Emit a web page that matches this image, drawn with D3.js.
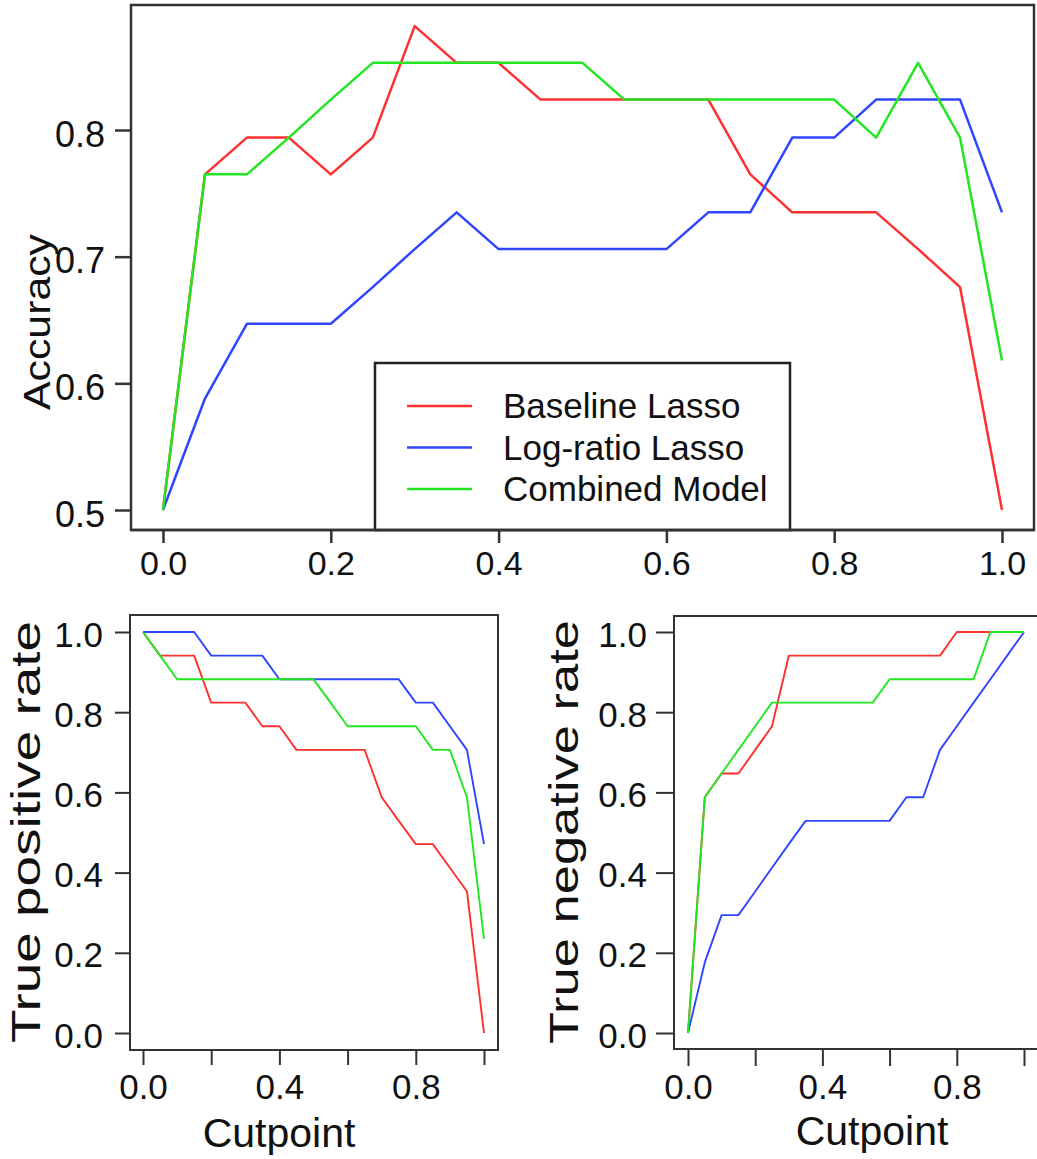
<!DOCTYPE html>
<html>
<head>
<meta charset="utf-8">
<script src="https://cdn.jsdelivr.net/npm/d3@7"></script>
<style>
  html, body { margin: 0; padding: 0; background: #fff; }
  svg { display: block; }
  text { font-family: "Liberation Sans", Arial, sans-serif; fill: #111; }
</style>
</head>
<body>
<svg id="chart" width="1037" height="1159"></svg>
<script>
// ---------- data ----------
const cutpoints = [0.00,0.05,0.10,0.15,0.20,0.25,0.30,0.35,0.40,0.45,0.50,0.55,0.60,0.65,0.70,0.75,0.80,0.85,0.90,0.95,1.00];

const seriesNames  = ["Baseline Lasso", "Log-ratio Lasso", "Combined Model"];
const seriesColors = ["#ff3030", "#2f45ff", "#22e622"];

const accBaseline = [0.500,0.765,0.794,0.794,0.765,0.794,0.882,0.853,0.853,0.824,0.824,0.824,0.824,0.824,0.765,0.735,0.735,0.735,0.706,0.676,0.500];
const accLogratio = [0.500,0.588,0.647,0.647,0.647,0.676,0.706,0.735,0.706,0.706,0.706,0.706,0.706,0.735,0.735,0.794,0.794,0.824,0.824,0.824,0.735];
const accCombined = [0.500,0.765,0.765,0.794,0.824,0.853,0.853,0.853,0.853,0.853,0.853,0.824,0.824,0.824,0.824,0.824,0.824,0.794,0.853,0.794,0.618];

const tprBaseline = [1.000,0.941,0.941,0.941,0.824,0.824,0.824,0.765,0.765,0.706,0.706,0.706,0.706,0.706,0.588,0.529,0.471,0.471,0.412,0.353,0.000];
const tprLogratio = [1.000,1.000,1.000,1.000,0.941,0.941,0.941,0.941,0.882,0.882,0.882,0.882,0.882,0.882,0.882,0.882,0.824,0.824,0.765,0.706,0.471];
const tprCombined = [1.000,0.941,0.882,0.882,0.882,0.882,0.882,0.882,0.882,0.882,0.882,0.824,0.765,0.765,0.765,0.765,0.765,0.706,0.706,0.588,0.235];

const tnrBaseline = [0.000,0.588,0.647,0.647,0.706,0.765,0.941,0.941,0.941,0.941,0.941,0.941,0.941,0.941,0.941,0.941,1.000,1.000,1.000,1.000,1.000];
const tnrLogratio = [0.000,0.176,0.294,0.294,0.353,0.412,0.471,0.529,0.529,0.529,0.529,0.529,0.529,0.588,0.588,0.706,0.765,0.824,0.882,0.941,1.000];
const tnrCombined = [0.000,0.588,0.647,0.706,0.765,0.824,0.824,0.824,0.824,0.824,0.824,0.824,0.882,0.882,0.882,0.882,0.882,0.882,1.000,1.000,1.000];

const accTicksX = [0, 0.2, 0.4, 0.6, 0.8, 1.0];
const accTicksY = [0.5, 0.6, 0.7, 0.8];
const rateTicksX = [0, 0.2, 0.4, 0.6, 0.8, 1.0];
const rateLabelsX = [0, 0.4, 0.8];
const rateTicksY = [0, 0.2, 0.4, 0.6, 0.8, 1.0];

// ---------- drawing ----------
const svg = d3.select("#chart");
const fmt = d3.format(".1f");

function panel(cfg) {
  const g = svg.append("g");
  const x = d3.scaleLinear().domain([0, 1]).range(cfg.xRange);
  const y = d3.scaleLinear().domain(cfg.yDomain).range(cfg.yRange);

  g.append("rect")
    .attr("x", cfg.box[0]).attr("y", cfg.box[1])
    .attr("width", cfg.box[2] - cfg.box[0]).attr("height", cfg.box[3] - cfg.box[1])
    .attr("fill", "none").attr("stroke", "#333").attr("stroke-width", cfg.frameW);

  const xa = g.append("g").attr("transform", `translate(0,${cfg.box[3]})`)
    .call(d3.axisBottom(x).tickValues(cfg.xTicks).tickSize(cfg.xTickLen).tickPadding(cfg.xPad)
      .tickFormat(d => cfg.xLabels.some(v => Math.abs(v - d) < 1e-9) ? fmt(d) : ""));
  xa.select(".domain").remove();
  xa.selectAll(".tick line").attr("stroke", "#333").attr("stroke-width", cfg.frameW);
  xa.selectAll(".tick text").attr("font-size", cfg.tickFont).attr("fill", "#111")
    .style("font-family", '"Liberation Sans", Arial, sans-serif');

  const ya = g.append("g").attr("transform", `translate(${cfg.box[0]},0)`)
    .call(d3.axisLeft(y).tickValues(cfg.yTicks).tickSize(cfg.yTickLen).tickPadding(cfg.yPad).tickFormat(fmt));
  ya.select(".domain").remove();
  ya.selectAll(".tick line").attr("stroke", "#333").attr("stroke-width", cfg.frameW);
  ya.selectAll(".tick text").attr("font-size", cfg.yTickFont || cfg.tickFont).attr("fill", "#111")
    .attr("dy", cfg.yDy)
    .style("font-family", '"Liberation Sans", Arial, sans-serif');

  const line = d3.line().x((d, i) => x(cutpoints[i])).y(d => y(d));
  cfg.series.forEach((s, i) => {
    g.append("path").datum(s)
      .attr("d", line)
      .attr("fill", "none")
      .attr("stroke", seriesColors[i])
      .attr("stroke-width", cfg.lineW)
      .attr("stroke-linejoin", "round");
  });

  g.append("text")
    .attr("transform", `translate(${cfg.yLabelPos[0]},${cfg.yLabelPos[1]}) rotate(-90)`)
    .attr("text-anchor", "middle")
    .attr("font-size", cfg.labelFont)
    .attr("textLength", cfg.yLabelLen).attr("lengthAdjust", "spacingAndGlyphs")
    .text(cfg.yLabel);

  if (cfg.xLabel) {
    g.append("text")
      .attr("x", cfg.xLabelPos[0]).attr("y", cfg.xLabelPos[1])
      .attr("text-anchor", "middle")
      .attr("font-size", cfg.labelFont)
      .text(cfg.xLabel);
  }
  return { g, x, y };
}

// top: accuracy
panel({
  xRange: [163, 1002], yDomain: [0.5, 0.8], yRange: [510, 130],
  box: [131, 5, 1034, 530], frameW: 2.5,
  xTicks: accTicksX, xLabels: accTicksX, yTicks: accTicksY,
  xTickLen: 13, yTickLen: 16, xPad: 8, yPad: 10, yDy: "0.45em",
  tickFont: 34, yTickFont: 36, labelFont: 36, lineW: 2.5,
  series: [accBaseline, accLogratio, accCombined],
  yLabel: "Accuracy", yLabelPos: [50, 322], yLabelLen: 176
});

// legend
const lg = svg.append("g");
lg.append("rect").attr("x", 375).attr("y", 363).attr("width", 415).attr("height", 167)
  .attr("fill", "#fff").attr("stroke", "#222").attr("stroke-width", 2.5);
seriesNames.forEach((name, i) => {
  const yy = 406 + i * 41.5;
  lg.append("line").attr("x1", 407).attr("x2", 472).attr("y1", yy).attr("y2", yy)
    .attr("stroke", seriesColors[i]).attr("stroke-width", 2.5);
  lg.append("text").attr("x", 503).attr("y", yy + 12).attr("font-size", 35)
    .attr("fill", "#111").text(name);
});
svg.append("line").attr("x1", 131).attr("x2", 1034).attr("y1", 530).attr("y2", 530)
  .attr("stroke", "#333").attr("stroke-width", 2.5);

// bottom-left: true positive rate
panel({
  xRange: [143, 484], yDomain: [0, 1], yRange: [1033, 632],
  box: [130, 615, 498, 1050], frameW: 2,
  xTicks: rateTicksX, xLabels: rateLabelsX, yTicks: rateTicksY,
  xTickLen: 15, yTickLen: 15, xPad: 9, yPad: 12, yDy: "0.4em",
  tickFont: 35, labelFont: 41, lineW: 1.9,
  series: [tprBaseline, tprLogratio, tprCombined],
  yLabel: "True positive rate", yLabelPos: [40, 832], yLabelLen: 422,
  xLabel: "Cutpoint", xLabelPos: [279, 1147]
});

// bottom-right: true negative rate
panel({
  xRange: [688, 1024], yDomain: [0, 1], yRange: [1033, 632],
  box: [674, 616, 1040, 1049], frameW: 2,
  xTicks: rateTicksX, xLabels: rateLabelsX, yTicks: rateTicksY,
  xTickLen: 17, yTickLen: 18, xPad: 8, yPad: 9, yDy: "0.4em",
  tickFont: 35, labelFont: 41, lineW: 1.9,
  series: [tnrBaseline, tnrLogratio, tnrCombined],
  yLabel: "True negative rate", yLabelPos: [578, 832], yLabelLen: 424,
  xLabel: "Cutpoint", xLabelPos: [872, 1145]
});
</script>
</body>
</html>
